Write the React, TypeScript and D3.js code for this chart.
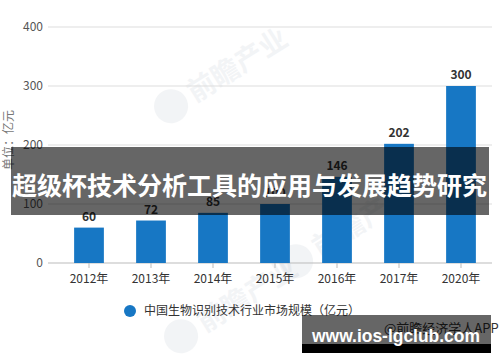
import React from 'react';
import * as d3 from 'd3';

const years = ['2012年', '2013年', '2014年', '2015年', '2016年', '2017年', '2020年'];
const marketSize = [60, 72, 85, 100, 146, 202, 300];
const yTicks = [0, 100, 200, 300, 400];

const seriesName = '中国生物识别技术行业市场规模（亿元）';
const unitLabel = '单位：亿元';
const bannerTitle = '超级杯技术分析工具的应用与发展趋势研究';
const siteMark = 'www.ios-lgclub.com';
const sourceMark = '@前瞻经济学人APP';
const watermark = '前瞻产业';

const W = 500;
const H = 362;
const font = '"Noto Sans CJK SC", "Liberation Sans", sans-serif';

const App: React.FC = () => {
  const x = d3.scaleBand<string>()
    .domain(years)
    .range([58, 492])
    .paddingInner(0.52)
    .paddingOuter(0.26);

  const y = d3.scaleLinear()
    .domain([0, 400])
    .range([263, 27]);

  const barColor = '#1777c4';

  return (
    <svg width={W} height={H} style={{ position: 'absolute', left: 0, top: 0, background: '#fff' }}>
      {/* faint watermarks */}
      {[[205, 85], [330, 240], [215, 315]].map(([wx, wy], i) => (
        <g key={i} transform={`translate(${wx},${wy}) rotate(-32)`} opacity={0.05}>
          <circle cx={-40} cy={0} r={17} fill="#1a3a5c" />
          <text x={-18} y={10} fontSize={28} fontWeight="bold" fill="#1a3a5c" fontFamily={font}>
            {watermark}
          </text>
        </g>
      ))}

      {/* grid + y ticks */}
      {yTicks.map(t => (
        <g key={t}>
          <line x1={48} x2={492} y1={y(t)} y2={y(t)} stroke={t === 0 ? '#bbb' : '#ddd'} strokeWidth={1} />
          <text x={43} y={y(t)} dy="0.35em" textAnchor="end" fontSize={12} fill="#555" fontFamily={font}>
            {t}
          </text>
        </g>
      ))}

      <text
        transform={`translate(13,140) rotate(-90)`}
        textAnchor="middle"
        fontSize={12}
        fill="#777"
        fontFamily={font}
      >
        {unitLabel}
      </text>

      {/* bars */}
      {years.map((yr, i) => {
        const bx = x(yr) as number;
        const v = marketSize[i];
        return (
          <g key={yr}>
            <rect x={bx} y={y(v)} width={x.bandwidth()} height={y(0) - y(v)} fill={barColor} />
            <text
              x={bx + x.bandwidth() / 2}
              y={y(v) - 7}
              textAnchor="middle"
              fontSize={12}
              fontWeight="bold"
              fill="#333"
              fontFamily={font}
            >
              {v}
            </text>
            <line
              x1={bx + x.bandwidth() / 2}
              x2={bx + x.bandwidth() / 2}
              y1={263}
              y2={268}
              stroke="#bbb"
            />
            <text
              x={bx + x.bandwidth() / 2}
              y={283}
              textAnchor="middle"
              fontSize={12}
              fill="#333"
              fontFamily={font}
            >
              {yr}
            </text>
          </g>
        );
      })}

      {/* legend */}
      <circle cx={130} cy={311} r={6} fill={barColor} />
      <text x={144} y={315} fontSize={12} fill="#333" fontFamily={font}>
        {seriesName}
      </text>

      {/* source text under watermark box */}
      <text x={384} y={333} fontSize={13} fill="#333" fontFamily={font}>
        {sourceMark}
      </text>

      {/* banner overlay */}
      <rect x={11} y={147} width={478} height={68} fill="rgba(0,0,0,0.6)" />
      <text
        x={12}
        y={186}
        dy="0.35em"
        fontSize={25}
        fontWeight="bold"
        fill="#fff"
        textLength={475}
        lengthAdjust="spacingAndGlyphs"
        fontFamily={font}
      >
        {bannerTitle}
      </text>

      {/* site watermark box */}
      <rect x={302} y={315} width={189} height={29} fill="rgba(0,0,0,0.6)" />
      <rect x={302} y={344} width={189} height={9} fill="#000" />
      <text
        x={312}
        y={342}
        fontSize={18}
        fontWeight="bold"
        fill="#fff"
        textLength={168}
        lengthAdjust="spacingAndGlyphs"
        fontFamily='"Liberation Sans", Arial, sans-serif'
      >
        {siteMark}
      </text>
    </svg>
  );
};

export default App;
